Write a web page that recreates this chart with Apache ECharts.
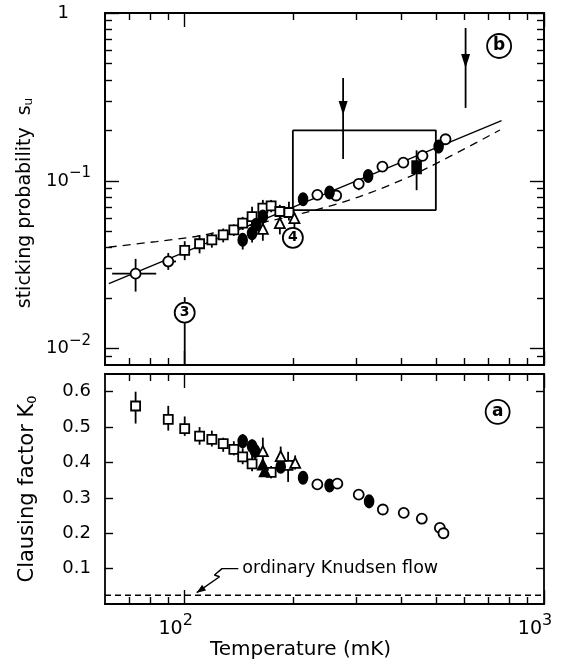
<!DOCTYPE html>
<html><head><meta charset="utf-8">
<script src="https://cdn.jsdelivr.net/npm/echarts@6/dist/echarts.min.js"></script>
<style>html,body{margin:0;padding:0;background:#fff}#c{width:574px;height:663px}</style>
</head><body><div id="c"></div>
<script>
// ---------- axes / ticks ----------
const xRange = [60, 1000];
const xMajorTicks = [100, 1000];
const xMinorTicks = [70, 80, 90, 200, 300, 400, 500, 600, 700, 800, 900];
const sRange = [0.008, 1];
const sMajorTicks = [0.01, 0.1, 1];
const sMinorTicks = [0.009, 0.02, 0.03, 0.04, 0.05, 0.06, 0.07, 0.08, 0.09, 0.2, 0.3, 0.4, 0.5, 0.6, 0.7, 0.8, 0.9];
const kRange = [0, 0.65];
const kTicks = [0.1, 0.2, 0.3, 0.4, 0.5, 0.6];

// ---------- panel (b): sticking probability ----------
const bSquareT  = [100, 110, 119, 128, 137, 145, 154, 165, 174, 184, 195];
const bSquareS  = [0.0385, 0.0422, 0.0445, 0.0477, 0.051, 0.056, 0.0613, 0.0688, 0.071, 0.0657, 0.0648];
const bSquareLo = [0.0337, 0.037, 0.040, 0.043, 0.047, 0.051, 0.055, 0.062, 0.065, 0.060, 0.058];
const bSquareHi = [0.0437, 0.0475, 0.049, 0.052, 0.055, 0.061, 0.070, 0.077, 0.077, 0.072, 0.075];

const bOpenCircT  = [73, 90, 234, 264, 305, 355, 406, 459, 532];
const bOpenCircS  = [0.028, 0.0331, 0.0826, 0.0818, 0.096, 0.1217, 0.1285, 0.141, 0.177];
const bOpenCircLo = [0.0219, 0.0295, 0.079, null, 0.088, null, 0.124, 0.132, 0.165];
const bOpenCircHi = [0.0343, 0.0372, 0.088, null, 0.102, null, 0.133, 0.153, 0.19];
const bHorizLo = [62.8, 86.6];
const bHorizHi = [83.3, 94.6];

const bFillCircT  = [145, 154, 158, 165, 213.5, 253, 324, 509];
const bFillCircS  = [0.0445, 0.0488, 0.0548, 0.0613, 0.0778, 0.0852, 0.107, 0.160];
const bFillCircLo = [0.039, 0.043, 0.050, 0.052, 0.073, null, null, null];
const bFillCircHi = [0.048, 0.053, 0.060, 0.070, 0.083, null, null, null];

const bTriT  = [165, 184, 202];
const bTriS  = [0.0518, 0.056, 0.060];
const bTriLo = [0.044, 0.048, 0.050];
const bTriHi = [0.057, 0.061, 0.064];

const bFillSqT  = [442];
const bFillSqS  = [0.1206];
const bFillSqLo = [0.088];
const bFillSqHi = [0.152];

// upper-limit arrows: T, line top, arrow tip, line bottom
const arrowT    = [276, 605];
const arrowTop  = [0.41, 0.814];
const arrowTip  = [0.247, 0.471];
const arrowBot  = [0.135, 0.272];

// box
const boxT = [200, 500];
const boxS = [0.067, 0.2];

// solid fit & dashed curve
const fitT = [61.5, 762];
const fitS = [0.0244, 0.2286];
const dashT = [61.5, 83.4, 110, 213.5, 307, 442, 754];
const dashS = [0.0403, 0.0435, 0.0471, 0.0642, 0.0806, 0.111, 0.201];

// circled markers
const mark3T = [100];
const mark3S = [0.0164];
const mark3Lo = [0.008];
const mark3Hi = [0.0203];
const mark4T = [200];
const mark4S = [0.0458];
const panelBT = [750];
const panelBS = [0.636];

// ---------- panel (a): Clausing factor ----------
const aSquareT  = [73, 90, 100, 110, 119, 128, 137, 145, 154, 174, 194];
const aSquareK  = [0.5595, 0.522, 0.4955, 0.4745, 0.465, 0.453, 0.437, 0.416, 0.396, 0.372, 0.392];
const aSquareLo = [0.51, 0.49, 0.475, 0.45, 0.445, 0.43, 0.42, 0.395, 0.375, 0.355, 0.345];
const aSquareHi = [0.60, 0.56, 0.53, 0.50, 0.49, 0.47, 0.46, 0.44, 0.42, 0.39, 0.43];

const aFillCircT  = [145, 154, 157, 185, 213.5, 253, 326];
const aFillCircK  = [0.460, 0.446, 0.432, 0.388, 0.357, 0.335, 0.290];
const aFillCircLo = [0.44, 0.42, 0.41, 0.37, 0.35, null, null];
const aFillCircHi = [0.48, 0.465, 0.45, 0.405, 0.365, null, null];

const aTriT  = [165, 185, 203];
const aTriK  = [0.432, 0.418, 0.399];
const aTriLo = [0.40, 0.395, 0.38];
const aTriHi = [0.47, 0.445, 0.42];

const aFillTriT  = [165, 167];
const aFillTriK  = [0.394, 0.375];
const aFillTriLo = [0.36, 0.36];
const aFillTriHi = [0.41, 0.39];

const aOpenCircT  = [234, 266, 305, 356, 407, 457, 513, 525];
const aOpenCircK  = [0.338, 0.340, 0.309, 0.267, 0.2575, 0.241, 0.215, 0.200];
const aOpenCircLo = [0.325, null, 0.295, null, null, null, null, null];
const aOpenCircHi = [0.35, null, 0.325, null, null, null, null, null];

const knudsenK = 0.025;
const leaderT = [141, 127, 121, 125, 108];
const leaderK = [0.1, 0.1, 0.082, 0.077, 0.032];
const knudsenText = 'ordinary Knudsen flow';
const panelAT = [743];
const panelAK = [0.543];

// ---------- chart ----------
const FONT = 'DejaVu Sans';
const BLK = '#000';
const chart = echarts.init(document.getElementById('c'), null, {renderer: 'canvas'});

const G0 = {left: 105, top: 13, width: 439, height: 352};
const G1 = {left: 105, top: 374, width: 439, height: 230};

function baseAxis(type, grid, pos, range, ticks, len) {
  const a = {
    type: type, gridIndex: grid, position: pos, min: range[0], max: range[1],
    axisLine: {show: true, onZero: false, lineStyle: {color: BLK, width: 1.8}},
    axisTick: {show: true, inside: true, length: len, customValues: ticks, lineStyle: {color: BLK, width: 1.4}},
    axisLabel: {show: false},
    splitLine: {show: false}, minorTick: {show: false}, minorSplitLine: {show: false}
  };
  if (type === 'log') a.logBase = 10;
  return a;
}
const ySupRich = {
  b: {fontSize: 18, fontFamily: FONT, color: BLK},
  s: {fontSize: 15, fontFamily: FONT, color: BLK, padding: [0, 0, 16, 0]},
  one: {fontSize: 18, fontFamily: FONT, color: BLK, padding: [0, 22, 0, 0]}
};
const xSupRich = {
  b: {fontSize: 19, fontFamily: FONT, color: BLK},
  s: {fontSize: 16, fontFamily: FONT, color: BLK, padding: [0, 0, 17, 0]}
};
const nameRich = (fs) => ({
  t: {fontSize: fs, fontFamily: FONT, color: BLK},
  u: {fontSize: Math.round(fs * 0.62), fontFamily: FONT, color: BLK, padding: [9, 0, 0, 0]}
});

const xAxes = [
  baseAxis('log', 0, 'bottom', xRange, xMajorTicks, 14),
  baseAxis('log', 0, 'bottom', xRange, xMinorTicks, 7),
  baseAxis('log', 0, 'top', xRange, xMajorTicks, 14),
  baseAxis('log', 0, 'top', xRange, xMinorTicks, 7),
  Object.assign(baseAxis('log', 1, 'bottom', xRange, xMajorTicks, 14), {
    name: 'Temperature (mK)', nameLocation: 'middle', nameGap: 33,
    nameTextStyle: {fontSize: 20, fontFamily: FONT, color: BLK, padding: [0, 48, 0, 0]},
    axisLabel: {show: true, customValues: xMajorTicks, margin: 9, rich: xSupRich, padding: [0, 18, 0, 0],
      formatter: v => '{b|10}{s|' + Math.round(Math.log10(v)) + '}'}
  }),
  baseAxis('log', 1, 'bottom', xRange, xMinorTicks, 7),
  baseAxis('log', 1, 'top', xRange, xMajorTicks, 14),
  baseAxis('log', 1, 'top', xRange, xMinorTicks, 7)
];
const yAxes = [
  Object.assign(baseAxis('log', 0, 'left', sRange, sMajorTicks, 14), {
    name: '{t|sticking probability  s}{u|u}', nameLocation: 'middle', nameGap: 66,
    nameTextStyle: {rich: nameRich(19), padding: [0, 28, 0, 0]},
    axisLabel: {show: true, customValues: sMajorTicks, margin: 14, rich: ySupRich,
      formatter: v => { const e = Math.round(Math.log10(v)); return e === 0 ? '{one|1}' : '{b|10}{s|\u2212' + (-e) + '}'; }}
  }),
  baseAxis('log', 0, 'left', sRange, sMinorTicks, 7),
  baseAxis('log', 0, 'right', sRange, sMajorTicks, 14),
  baseAxis('log', 0, 'right', sRange, sMinorTicks, 7),
  Object.assign(baseAxis('value', 1, 'left', kRange, kTicks, 8), {
    name: '{t|Clausing factor K}{u|0}', nameLocation: 'middle', nameGap: 66,
    nameTextStyle: {rich: nameRich(21)},
    axisLabel: {show: true, customValues: kTicks, margin: 14, fontSize: 18, fontFamily: FONT, color: BLK,
      formatter: v => v.toFixed(1)}
  }),
  baseAxis('value', 1, 'right', kRange, kTicks, 8)
];

function ax(g) { return g ? {xAxisIndex: 4, yAxisIndex: 4} : {xAxisIndex: 0, yAxisIndex: 0}; }
function pts(T, V) { return T.map((t, i) => [t, V[i]]); }
function scatter(g, T, V, symbol, size, filled) {
  return Object.assign({type: 'scatter', data: pts(T, V), symbol: symbol, symbolSize: size,
    itemStyle: {color: filled ? BLK : '#fff', borderColor: BLK, borderWidth: 1.8, opacity: 1},
    z: 5, silent: true, animation: false}, ax(g));
}
function errBars(g, T, lo, hi) {
  const data = [];
  T.forEach((t, i) => { if (lo[i] != null) data.push([t, lo[i], hi[i]]); });
  return Object.assign({type: 'custom', data: data, encode: {x: 0, y: [1, 2]}, z: 3, silent: true, animation: false,
    renderItem: (p, api) => {
      const a = api.coord([api.value(0), api.value(1)]), b = api.coord([api.value(0), api.value(2)]);
      return {type: 'line', shape: {x1: a[0], y1: a[1], x2: b[0], y2: b[1]}, style: {stroke: BLK, lineWidth: 1.8}};
    }}, ax(g));
}
function hBars(g, lo, hi, V) {
  return Object.assign({type: 'custom', data: lo.map((l, i) => [l, hi[i], V[i]]), encode: {x: [0, 1], y: 2}, z: 3, silent: true, animation: false,
    renderItem: (p, api) => {
      const a = api.coord([api.value(0), api.value(2)]), b = api.coord([api.value(1), api.value(2)]);
      return {type: 'line', shape: {x1: a[0], y1: a[1], x2: b[0], y2: b[1]}, style: {stroke: BLK, lineWidth: 1.8}};
    }}, ax(g));
}
function circled(g, T, V, text, size, fs) {
  return Object.assign({type: 'scatter', data: pts(T, V), symbol: 'circle', symbolSize: size,
    itemStyle: {color: '#fff', borderColor: BLK, borderWidth: 1.8, opacity: 1},
    label: {show: true, position: 'inside', formatter: text, fontSize: fs, fontFamily: FONT, color: BLK, fontWeight: 'bold'},
    z: 8, silent: true, animation: false}, ax(g));
}

const series = [
  // panel b lines
  Object.assign({type: 'line', data: pts(fitT, fitS), symbol: 'none', lineStyle: {color: BLK, width: 1.3}, z: 2, silent: true, animation: false}, ax(0)),
  Object.assign({type: 'line', data: pts(dashT, dashS), smooth: 0.3, symbol: 'none', lineStyle: {color: BLK, width: 1.3, type: [8, 6]}, z: 2, silent: true, animation: false}, ax(0)),
  Object.assign({type: 'line', data: [[boxT[0], boxS[1]], [boxT[1], boxS[1]], [boxT[1], boxS[0]], [boxT[0], boxS[0]], [boxT[0], boxS[1]]],
    symbol: 'none', lineStyle: {color: BLK, width: 1.8}, z: 2, silent: true, animation: false}, ax(0)),
  errBars(0, bSquareT, bSquareLo, bSquareHi),
  errBars(0, bOpenCircT, bOpenCircLo, bOpenCircHi),
  hBars(0, bHorizLo, bHorizHi, bOpenCircS.slice(0, 2)),
  errBars(0, bFillCircT, bFillCircLo, bFillCircHi),
  errBars(0, bTriT, bTriLo, bTriHi),
  errBars(0, bFillSqT, bFillSqLo, bFillSqHi),
  errBars(0, mark3T, mark3Lo, mark3Hi),
  scatter(0, bSquareT, bSquareS, 'rect', 9, false),
  scatter(0, bOpenCircT, bOpenCircS, 'circle', 10, false),
  scatter(0, bFillCircT, bFillCircS, 'circle', [9, 12], true),
  scatter(0, bTriT, bTriS, 'triangle', 10, false),
  scatter(0, bFillSqT, bFillSqS, 'rect', [9, 12], true),
  Object.assign({type: 'custom', data: arrowT.map((t, i) => [t, arrowTop[i], arrowTip[i], arrowBot[i]]), encode: {x: 0, y: [1, 3]}, z: 4, silent: true, animation: false,
    renderItem: (p, api) => {
      const x = api.value(0);
      const a = api.coord([x, api.value(1)]), t = api.coord([x, api.value(2)]), b = api.coord([x, api.value(3)]);
      return {type: 'group', children: [
        {type: 'line', shape: {x1: a[0], y1: a[1], x2: b[0], y2: b[1]}, style: {stroke: BLK, lineWidth: 1.8}},
        {type: 'polygon', shape: {points: [[t[0] - 4.5, t[1] - 14], [t[0] + 4.5, t[1] - 14], [t[0], t[1]]]}, style: {fill: BLK}}
      ]};
    }}, ax(0)),
  circled(0, mark3T, mark3S, '3', 20, 14),
  circled(0, mark4T, mark4S, '4', 20, 14),
  circled(0, panelBT, panelBS, 'b', 24, 17),

  // panel a
  Object.assign({type: 'line', data: [[xRange[0], knudsenK], [xRange[1], knudsenK]], symbol: 'none', lineStyle: {color: BLK, width: 1.5, type: [6, 4]}, z: 2, silent: true, animation: false}, ax(1)),
  Object.assign({type: 'line', data: pts(leaderT, leaderK), symbol: 'none', lineStyle: {color: BLK, width: 1.4}, z: 2, silent: true, animation: false}, ax(1)),
  Object.assign({type: 'custom', data: [[leaderT[3], leaderK[3], leaderT[4], leaderK[4]]], encode: {x: [0, 2], y: [1, 3]}, z: 4, silent: true, animation: false,
    renderItem: (p, api) => {
      const a = api.coord([api.value(0), api.value(1)]), t = api.coord([api.value(2), api.value(3)]);
      const dx = t[0] - a[0], dy = t[1] - a[1], L = Math.hypot(dx, dy), ux = dx / L, uy = dy / L;
      const bx = t[0] - ux * 9, by = t[1] - uy * 9;
      return {type: 'polygon', shape: {points: [[t[0], t[1]], [bx - uy * 3.5, by + ux * 3.5], [bx + uy * 3.5, by - ux * 3.5]]}, style: {fill: BLK}};
    }}, ax(1)),
  Object.assign({type: 'scatter', data: [[leaderT[0], leaderK[0]]], symbolSize: 0, itemStyle: {opacity: 1},
    label: {show: true, position: 'right', distance: 4, formatter: knudsenText, fontSize: 17.5, fontFamily: FONT, color: BLK, opacity: 1},
    z: 6, silent: true, animation: false}, ax(1)),
  errBars(1, aSquareT, aSquareLo, aSquareHi),
  errBars(1, aFillCircT, aFillCircLo, aFillCircHi),
  errBars(1, aTriT, aTriLo, aTriHi),
  errBars(1, aFillTriT, aFillTriLo, aFillTriHi),
  errBars(1, aOpenCircT, aOpenCircLo, aOpenCircHi),
  scatter(1, aSquareT, aSquareK, 'rect', 9, false),
  scatter(1, aFillCircT, aFillCircK, 'circle', [9, 12], true),
  scatter(1, aTriT, aTriK, 'triangle', 10, false),
  scatter(1, aFillTriT, aFillTriK, 'triangle', 10, true),
  scatter(1, aOpenCircT, aOpenCircK, 'circle', 10, false),
  circled(1, panelAT, panelAK, 'a', 24, 17)
];

chart.setOption({
  backgroundColor: '#fff',
  animation: false,
  grid: [G0, G1],
  xAxis: xAxes,
  yAxis: yAxes,
  series: series
});
</script>
</body></html>
